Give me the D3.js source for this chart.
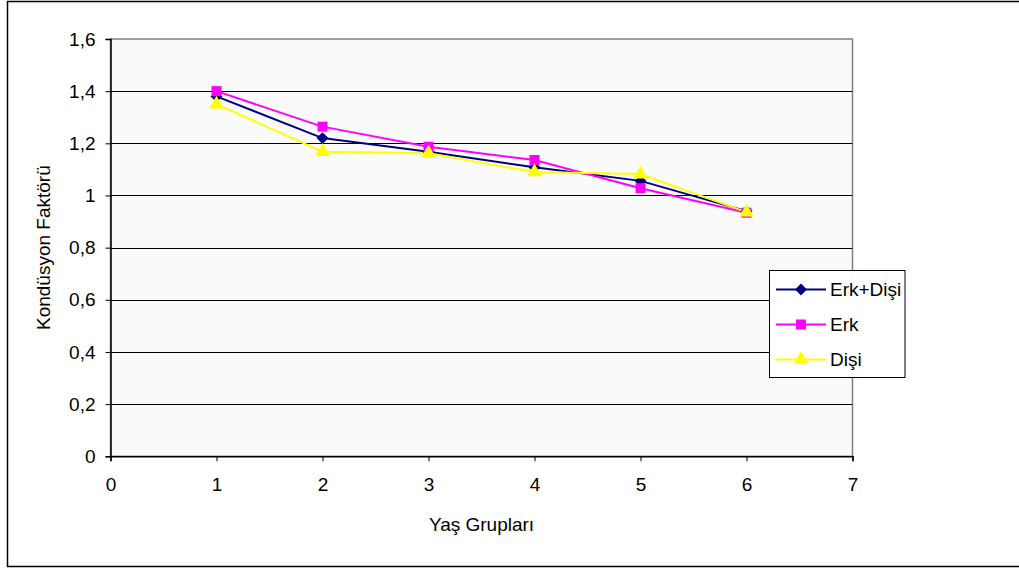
<!DOCTYPE html>
<html>
<head>
<meta charset="utf-8">
<script src="https://cdn.jsdelivr.net/npm/d3@7"></script>
<style>
  html, body { margin: 0; padding: 0; background: #fff; }
  svg { display: block; font-family: "Liberation Sans", Arial, sans-serif; }
</style>
</head>
<body>
<svg id="chart" width="1019" height="569"></svg>
<script>
// Age groups and condition factor per series
const ageGroups = [1, 2, 3, 4, 5, 6];
const erkDisi = [1.38, 1.22, 1.168, 1.108, 1.056, 0.94];
const erk     = [1.40, 1.264, 1.187, 1.136, 1.028, 0.934];
const disi    = [1.35, 1.168, 1.162, 1.09, 1.082, 0.936];

const xTicks = [0, 1, 2, 3, 4, 5, 6, 7];
const yTicks = [0, 0.2, 0.4, 0.6, 0.8, 1.0, 1.2, 1.4, 1.6];

const seriesNames = ["Erk+Dişi", "Erk", "Dişi"];
const seriesValues = [erkDisi, erk, disi];
const seriesColors = ["#000080", "#FF00FF", "#FFFF00"];
const seriesSymbols = [d3.symbolDiamond2, d3.symbolSquare, d3.symbolTriangle];

const FONT = 19;
const svg = d3.select("#chart");
const plot = { left: 110.5, right: 852.5, top: 39, bottom: 456.3 };

const x = d3.scaleLinear().domain([0, 7]).range([plot.left, plot.right]);
const y = d3.scaleLinear().domain([0, 1.6]).range([plot.bottom, plot.top]);
const fmt = v => String(+v.toFixed(1)).replace(".", ",");

// outer chart frame
svg.append("rect")
  .attr("x", 7.5).attr("y", 1.5).attr("width", 1030).attr("height", 565)
  .attr("fill", "#fff").attr("stroke", "#000").attr("stroke-width", 1.5);

// plot area
svg.append("rect")
  .attr("x", plot.left).attr("y", plot.top)
  .attr("width", plot.right - plot.left).attr("height", plot.bottom - plot.top)
  .attr("fill", "#FAFAFA").attr("stroke", "#808080").attr("stroke-width", 1.5);

// horizontal gridlines
svg.append("g").selectAll("line")
  .data(yTicks.filter(v => v > 0 && v < 1.6))
  .join("line")
  .attr("x1", plot.left).attr("x2", plot.right)
  .attr("y1", d => Math.round(y(d)) + 0.5).attr("y2", d => Math.round(y(d)) + 0.5)
  .attr("stroke", "#000").attr("stroke-width", 1);

// axes
const yAxis = d3.axisLeft(y).tickValues(yTicks).tickFormat(fmt).tickSize(5).tickPadding(10);
const gy = svg.append("g").attr("transform", `translate(${plot.left},0)`).call(yAxis);
const xAxis = d3.axisBottom(x).tickValues(xTicks).tickFormat(d3.format("d")).tickSize(5).tickPadding(16);
const gx = svg.append("g").attr("transform", `translate(0,${plot.bottom})`).call(xAxis);
[gx, gy].forEach(g => {
  g.attr("font-size", FONT).attr("font-family", "Liberation Sans, Arial, sans-serif");
  g.select(".domain").attr("stroke", "#000").attr("stroke-width", 1.5);
  g.selectAll(".tick line").attr("stroke", "#000");
  g.selectAll("text").attr("fill", "#000");
});

// axis titles
svg.append("text")
  .attr("x", (plot.left + plot.right) / 2).attr("y", 531)
  .attr("text-anchor", "middle").attr("font-size", FONT).text("Yaş Grupları");
svg.append("text")
  .attr("transform", `translate(50,${(plot.top + plot.bottom) / 2}) rotate(-90)`)
  .attr("text-anchor", "middle").attr("font-size", FONT).text("Kondüsyon Faktörü");

// lines
const line = d3.line().x((d, i) => x(ageGroups[i])).y(d => y(d));
seriesValues.forEach((vals, s) => {
  svg.append("path").datum(vals)
    .attr("d", line).attr("fill", "none")
    .attr("stroke", seriesColors[s]).attr("stroke-width", 2);
});

// markers
const symbolSizes = [90, 100, 95];
seriesValues.forEach((vals, s) => {
  svg.append("g").selectAll("path")
    .data(vals).join("path")
    .attr("transform", (d, i) => `translate(${x(ageGroups[i])},${y(d)})`)
    .attr("d", d3.symbol().type(seriesSymbols[s]).size(symbolSizes[s]))
    .attr("fill", seriesColors[s]);
});

// legend
const legend = svg.append("g");
legend.append("rect")
  .attr("x", 769.5).attr("y", 270.5).attr("width", 135.5).attr("height", 107)
  .attr("fill", "#fff").attr("stroke", "#000").attr("stroke-width", 1);
const rowY = [289.5, 324.5, 359.5];
seriesNames.forEach((name, s) => {
  legend.append("line")
    .attr("x1", 776).attr("x2", 826).attr("y1", rowY[s]).attr("y2", rowY[s])
    .attr("stroke", seriesColors[s]).attr("stroke-width", 2);
  legend.append("path")
    .attr("transform", `translate(801,${rowY[s]})`)
    .attr("d", d3.symbol().type(seriesSymbols[s]).size(symbolSizes[s]))
    .attr("fill", seriesColors[s]);
  legend.append("text")
    .attr("x", 830).attr("y", rowY[s] + 6.5)
    .attr("font-size", FONT).text(name);
});
</script>
</body>
</html>
